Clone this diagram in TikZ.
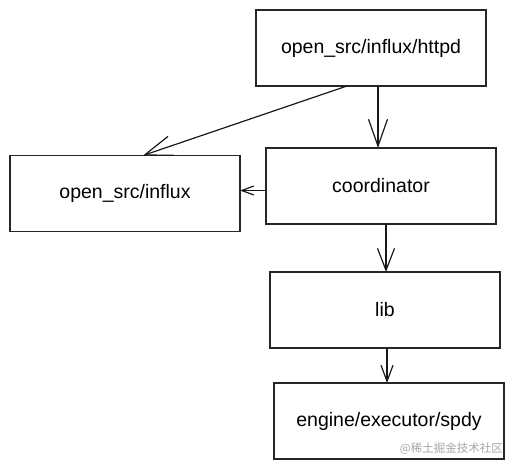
\documentclass[tikz,border=0pt]{standalone}
\usepackage{fontspec}
\setmainfont{Liberation Sans}
\newfontfamily\cjkfont{Noto Sans CJK SC}
\usepackage{tikz}
\usetikzlibrary{positioning}
\usetikzlibrary{arrows.meta}

\tikzset{
    pkg/.style={draw=black!85, line width=1.6pt, rectangle, minimum width=230pt, minimum height=76pt, inner sep=0pt, outer sep=0pt, font=\fontsize{19.5}{23}\selectfont},
    dep/.style={draw=black!90, line width=1.2pt},
}

\begin{document}
\begin{tikzpicture}[x=1pt, y=-1pt]
    \useasboundingbox (0,0) rectangle (514,468);

    \node [pkg] (httpd) at (371,48) {open\_src/influx/httpd};
    \node [pkg, below right=62pt and 10pt of httpd.south west, anchor=north west] (coordinator) {coordinator};
    \node [pkg, left=26pt of coordinator, yshift=-7.5pt] (influx) {open\_src/influx};
    \node [pkg, below right=48pt and 4pt of coordinator.south west, anchor=north west] (lib) {lib};
    \node [pkg, below right=35pt and 4pt of lib.south west, anchor=north west] (engine) {engine/executor/spdy};

    % watermark
    \node [anchor=east, inner sep=0pt, text=black!35, font=\cjkfont\fontsize{11.5}{13}\selectfont] (mark) at (503,449) {@稀土掘金技术社区};

    \draw [dep, -{Straight Barb[length=28pt, width=20pt]}] ([xshift=-24pt]httpd.south) -- ([xshift=18pt]influx.north);
    \draw [dep, -{Straight Barb[length=27pt, width=19pt]}] ([xshift=7pt]httpd.south) -- ([xshift=-3pt]coordinator.north);
    \draw [dep, -{Straight Barb[length=12pt, width=9pt]}] ([yshift=-4.5pt]coordinator.west) -- ([yshift=3pt]influx.east);
    \draw [dep, -{Straight Barb[length=22pt, width=17pt]}] ([xshift=5pt]coordinator.south) -- ([xshift=1pt]lib.north);
    \draw [dep, -{Straight Barb[length=16pt, width=12pt]}] ([xshift=2pt]lib.south) -- ([xshift=-2pt]engine.north);

\end{tikzpicture}
\end{document}
